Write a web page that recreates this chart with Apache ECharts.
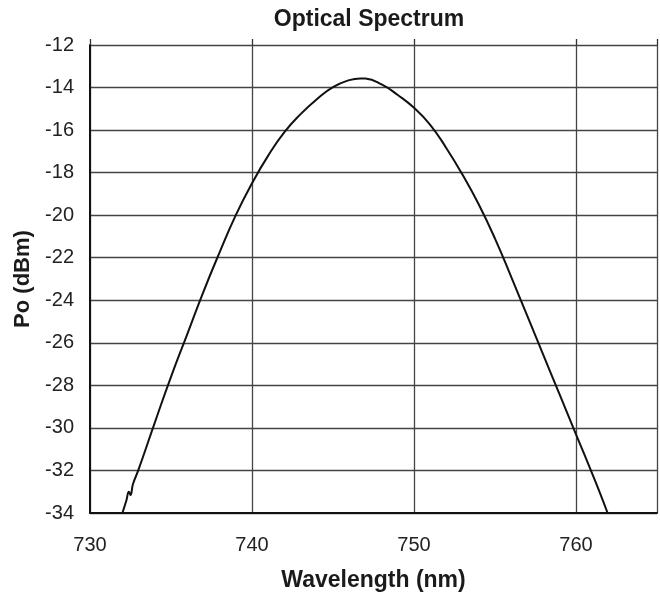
<!DOCTYPE html>
<html>
<head>
<meta charset="utf-8">
<script src="https://cdn.jsdelivr.net/npm/echarts@6/dist/echarts.min.js"></script>
<style>html,body{margin:0;padding:0;background:#fff;}#chart{width:660px;height:604px;}</style>
</head>
<body>
<div id="chart"></div>
<script>
// Data
const wavelength = [732.0, 732.25, 732.4, 732.5, 732.65, 733, 734, 735, 736, 737, 738, 739, 740, 741, 742, 743, 744, 745, 746, 746.7, 747, 748, 749, 750, 751, 752, 753, 754, 755, 756, 757, 758, 759, 760, 761, 761.5, 761.95];
const power = [-34.0, -33.4, -33.0, -33.15, -32.65, -31.95, -29.75, -27.6, -25.6, -23.6, -21.75, -20.0, -18.5, -17.2, -16.1, -15.25, -14.55, -13.98, -13.65, -13.57, -13.58, -13.85, -14.35, -14.95, -15.75, -16.85, -18.1, -19.5, -21.1, -22.9, -24.75, -26.6, -28.45, -30.3, -32.15, -33.1, -34.0];
const xTicks = [730, 740, 750, 760];
const yTicks = [-34, -32, -30, -28, -26, -24, -22, -20, -18, -16, -14, -12];
const titleText = 'Optical Spectrum';
const xName = 'Wavelength (nm)';
const yName = 'Po (dBm)';

const seriesData = wavelength.map((w, i) => [w, power[i]]);
const font = 'Liberation Sans, Arial, Helvetica, sans-serif';
const chart = echarts.init(document.getElementById('chart'), null, {renderer: 'canvas'});
chart.setOption({
  backgroundColor: '#fff',
  animation: false,
  title: {
    text: titleText, left: 364, top: 3, textAlign: 'center',
    textStyle: {fontFamily: font, fontSize: 23, fontWeight: 'bold', color: '#1a1a1a'}
  },
  grid: {left: 90, top: 45, right: -11, bottom: 91, containLabel: false},
  xAxis: [{
    type: 'value', min: 730, max: 765, interval: 10,
    name: xName, nameLocation: 'middle', nameGap: 56,
    nameTextStyle: {fontFamily: font, fontSize: 23, fontWeight: 'bold', color: '#1a1a1a'},
    axisLine: {show: true, lineStyle: {color: '#111', width: 2}},
    axisTick: {show: false},
    axisLabel: {margin: 22, fontFamily: font, fontSize: 20, color: '#222',
      formatter: v => xTicks.includes(v) ? String(v) : ''},
    splitLine: {show: true, lineStyle: {color: '#444', width: 1.3}}
  }, {
    type: 'value', min: 730, max: 765, interval: 10, position: 'top',
    axisLine: {show: false},
    axisTick: {show: true, length: 6, inside: false, lineStyle: {color: '#333', width: 1.3}},
    axisLabel: {show: false},
    splitLine: {show: false}
  }],
  yAxis: {
    type: 'value', min: -34, max: -12, interval: 2,
    name: yName, nameLocation: 'middle', nameGap: 55, nameRotate: 90,
    nameTextStyle: {fontFamily: font, fontSize: 22, fontWeight: 'bold', color: '#1a1a1a'},
    axisLine: {show: true, lineStyle: {color: '#111', width: 2}},
    axisTick: {show: false},
    axisLabel: {margin: 16, fontFamily: font, fontSize: 20, color: '#222',
      formatter: v => yTicks.includes(v) ? String(v) : ''},
    splitLine: {show: true, lineStyle: {color: '#444', width: 1.3}}
  },
  series: [{
    type: 'line', xAxisIndex: 0, data: seriesData, smooth: 0.5,
    showSymbol: false, symbol: 'none',
    lineStyle: {color: '#111', width: 2}
  }]
});
</script>
</body>
</html>
